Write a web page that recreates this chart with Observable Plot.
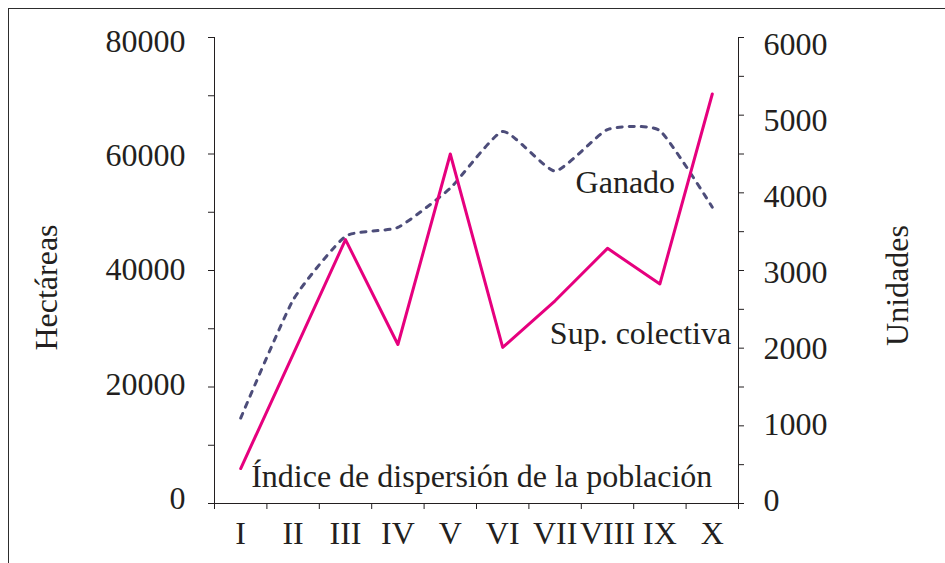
<!DOCTYPE html>
<html><head><meta charset="utf-8">
<script src="https://cdn.jsdelivr.net/npm/d3@7"></script>
<script src="https://cdn.jsdelivr.net/npm/@observablehq/plot@0.6"></script>
<style>
html,body{margin:0;padding:0;background:#fff;overflow:hidden;}
#wrap{position:relative;width:945px;height:563px;overflow:hidden;}
#border{position:absolute;left:8px;top:8px;width:2000px;height:2000px;border-left:1.5px solid #2d2d2d;border-top:1.5px solid #2d2d2d;pointer-events:none;}
#wrap svg{position:absolute;left:0;top:0;}
</style></head><body><div id="wrap"><div id="border"></div></div>
<script>
const categories = ["I", "II", "III", "IV", "V", "VI", "VII", "VIII", "IX", "X"];
// Sup. colectiva (Hectáreas, left axis)
const supColectiva = [6000, 25600, 45300, 27300, 60000, 26800, 34800, 43800, 37700, 70300];
// Ganado (Unidades, right axis)
const ganado = [1100, 2620, 3440, 3555, 4060, 4790, 4280, 4815, 4800, 3815];
const leftMax = 80000;
const rightMax = 6000;
const leftTicks = [0, 10000, 20000, 30000, 40000, 50000, 60000, 70000, 80000];
const leftLabels = [0, 20000, 40000, 60000, 80000];
const rightTicks = [0, 500, 1000, 1500, 2000, 2500, 3000, 3500, 4000, 4500, 5000, 5500, 6000];
const rightLabels = [0, 1000, 2000, 3000, 4000, 5000, 6000];
const annotationTexts = ["Ganado", "Sup. colectiva", "Índice de dispersión de la población"];
const annotationX = [7.34, 7.63, 4.6];
const annotationY = [55100, 29180, 4635];

const k = leftMax / rightMax;
const sup = categories.map((c, i) => ({i, v: supColectiva[i]}));
const gan = categories.map((c, i) => ({i, v: ganado[i] * k}));
const ann = annotationTexts.map((t, j) => ({text: t, x: annotationX[j], y: annotationY[j]}));
const ink = "#231f20";

// tick labels in the original sit slightly off their ticks (drawn as separate label-only axes)
const leftLabelAxes = leftLabels.map(v => Plot.axisY({ticks: [v], tickSize: 0, tickPadding: 29, label: null,
  dy: 4 - 9 * (1 - v / leftMax), tickFormat: d => String(d)}));
const rightLabelAxes = rightLabels.map(v => Plot.axisY({anchor: "right", ticks: [v * k], tickSize: 0, tickPadding: 25, label: null,
  dy: -3 + 10 * (v / rightMax), tickFormat: d => String(Math.round(d / k))}));

const plot = Plot.plot({
  width: 945, height: 563,
  marginLeft: 214, marginRight: 207, marginTop: 37, marginBottom: 60,
  style: {fontFamily: "'Liberation Serif', 'Times New Roman', serif", fontSize: "32px", color: ink, background: "transparent"},
  x: {type: "linear", domain: [-0.5, categories.length - 0.5]},
  y: {domain: [0, leftMax]},
  marks: [
    Plot.axisY({ticks: leftTicks, tickSize: 6, label: null, tickFormat: () => ""}),
    ...leftLabelAxes,
    Plot.axisY({anchor: "right", ticks: rightTicks.map(d => d * k), tickSize: 5, label: null, tickFormat: () => ""}),
    ...rightLabelAxes,
    Plot.axisX({ticks: categories.map((c, i) => i), tickSize: 0, tickPadding: 18, label: null,
      tickFormat: i => categories[i]}),
    Plot.axisX({ticks: categories.map((c, i) => i - 0.5).concat([categories.length - 0.5]), tickSize: 6, label: null,
      tickFormat: () => ""}),
    Plot.ruleX([-0.5, categories.length - 0.5], {stroke: ink}),
    Plot.ruleY([0], {stroke: ink}),
    Plot.line(gan, {x: "i", y: "v", curve: d3.curveCardinal.tension(0.5), stroke: "#4d4d7a", strokeWidth: 3, strokeDasharray: "5,7"}),
    Plot.line(sup, {x: "i", y: "v", stroke: "#e6007e", strokeWidth: 3}),
    Plot.text(ann, {x: "x", y: "y", text: "text", fontSize: 32, fill: ink}),
    Plot.text(["Hectáreas"], {frameAnchor: "left", textAnchor: "middle", dx: -168, dy: 17, rotate: -90, fontSize: 32, fill: ink}),
    Plot.text(["Unidades"], {frameAnchor: "right", textAnchor: "middle", dx: 159, dy: 15, rotate: -90, fontSize: 32, fill: ink})
  ]
});
document.getElementById("wrap").appendChild(plot);
</script>
</body></html>
